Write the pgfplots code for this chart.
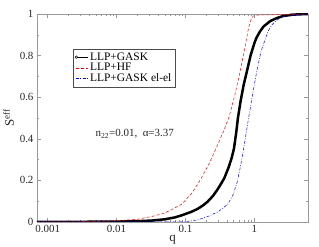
\documentclass[border=0pt]{standalone}
\usepackage{fontspec}
\setmainfont{Liberation Serif}
\usepackage{pgfplots}
\pgfplotsset{compat=1.18}
\begin{document}
\begin{tikzpicture}
\begin{axis}[
  name=ax,
  scale only axis, width=271bp, height=208bp,
  xmode=log, xmin=0.0007, xmax=6, ymin=0, ymax=1,
  xtick={0.001,0.01,0.1,1}, xticklabels={0.001,0.01,0.1,1},
  ytick={0,0.2,0.4,0.6,0.8,1}, yticklabels={0,0.2,0.4,0.6,0.8,1},
  minor ytick={0.1,0.3,0.5,0.7,0.9},
  tick align=inside,
  xtick pos=both, ytick pos=both,
  major tick length=4bp, minor tick length=2bp,
  axis line style={gray!80},
  every tick/.style={gray!80, line width=0.4pt},
  tick label style={font=\fontsize{11}{11}\selectfont, text=black!85},
  /pgf/number format/assume math mode=true,
  xlabel={q}, ylabel={S\textsuperscript{eff}},
  label style={font=\fontsize{13}{13}\selectfont, text=black!85},
  xlabel style={at={(axis description cs:0.5,0)}, anchor=base, yshift=-20bp},
  ylabel style={at={(axis description cs:0,0.5)}, anchor=base, yshift=23bp},
  legend style={at={(rel axis cs:0.133,0.832)}, anchor=north west,
    draw=black!70, line width=0.4pt, fill=white,
    font=\fontsize{11.5}{11.5}\selectfont, inner sep=1.5pt,
    row sep=-2.4pt, cells={anchor=west}},
]
\addplot[black, line width=2.5pt, line join=round,
  legend image code/.code={\draw[black, line width=0.7pt] (1.5bp,0bp) -- (13bp,0bp); \draw[black, line width=0.5pt, fill=white] (1.5bp,0bp) circle (1.3bp);}]
coordinates {
(0.0007,0.0) (0.001,0.0005) (0.003,0.001) (0.01,0.002) (0.02,0.004) (0.033,0.007)
(0.05,0.013) (0.07,0.022) (0.088,0.032) (0.12,0.048) (0.15,0.063) (0.18,0.08)
(0.21,0.098) (0.25,0.125) (0.29,0.155) (0.33,0.185) (0.365,0.21) (0.42,0.26)
(0.47,0.31) (0.506,0.354) (0.545,0.43) (0.577,0.50) (0.63,0.58) (0.70,0.66)
(0.786,0.73) (0.88,0.80) (1.0,0.86) (1.07,0.885) (1.2,0.915) (1.36,0.94)
(1.7,0.966) (2.1,0.98) (2.6,0.99) (3.6,0.997) (6,1.0)};
\addlegendentry{LLP+GASK}
\addplot[red, line width=0.5pt, dash pattern=on 3bp off 2bp,
  legend image code/.code={\draw[red, line width=0.5pt, dash pattern=on 3bp off 2bp] (1bp,0bp) -- (13bp,0bp);}]
coordinates {
(0.0007,0.0) (0.003,0.001) (0.0088,0.005) (0.02,0.013) (0.033,0.027) (0.05,0.043)
(0.088,0.085) (0.125,0.14) (0.169,0.21) (0.22,0.28) (0.277,0.354) (0.35,0.43)
(0.43,0.506) (0.52,0.61) (0.617,0.72) (0.72,0.83) (0.83,0.939) (0.9,0.975)
(0.96,0.99) (1.09,0.995) (2.5,0.997) (6,1.0)};
\addlegendentry{LLP+HF}
\addplot[blue, line width=0.5pt, dash pattern=on 3bp off 1.5bp on 0.8bp off 1.5bp,
  legend image code/.code={\draw[blue, line width=0.5pt, dash pattern=on 3bp off 1.5bp on 0.8bp off 1.5bp] (1bp,0bp) -- (13bp,0bp);}]
coordinates {
(0.0007,0.0) (0.098,0.001) (0.15,0.01) (0.21,0.026) (0.3,0.05) (0.41,0.085)
(0.49,0.13) (0.566,0.194) (0.63,0.27) (0.70,0.354) (0.83,0.506) (0.95,0.62)
(1.09,0.73) (1.25,0.82) (1.44,0.88) (1.6,0.92) (1.79,0.947) (2.1,0.97)
(2.6,0.987) (4.1,0.995) (6,1.0)};
\addlegendentry{LLP+GASK el-el}
\node[anchor=base west, font=\fontsize{11}{11}\selectfont, text=black!85] at (rel axis cs:0.203,0.409) {n\textsubscript{22}=0.01,\ \ α=3.37};
\end{axis}
\pgfresetboundingbox
\path ([xshift=-37bp,yshift=-25bp]ax.south west) rectangle ([xshift=11bp,yshift=14bp]ax.north east);
\end{tikzpicture}
\end{document}
